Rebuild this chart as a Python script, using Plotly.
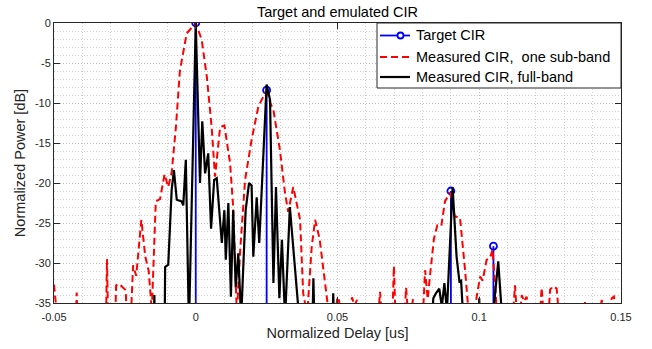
import plotly.graph_objects as go

# Target channel impulse response (discrete taps)
target_delay = [0.0, 0.025, 0.090, 0.105]
target_db = [0.0, -8.4, -21.0, -27.9]

# Measured CIR using a single sub-band
one_band_delay = [-0.0500, -0.0492, -0.0480, -0.0425, -0.0420, -0.0415, -0.0318, -0.0313, -0.0308,
                  -0.0286, -0.0281, -0.0271, -0.0257, -0.0247, -0.0240, -0.0228, -0.0221, -0.0210,
                  -0.0192, -0.0178, -0.0166, -0.0155, -0.0141, -0.0126, -0.0110, -0.0097, -0.0085,
                  -0.0070, -0.0056, -0.0032, 0.0000, 0.0021, 0.0039, 0.0056, 0.0068, 0.0086,
                  0.0101, 0.0121, 0.0132, 0.0141, 0.0145, 0.0156, 0.0174, 0.0197, 0.0221,
                  0.0247, 0.0274, 0.0297, 0.0315, 0.0326, 0.0344, 0.0368, 0.0379, 0.0393,
                  0.0409, 0.0421, 0.0437, 0.0444, 0.0462, 0.0470, 0.0494, 0.0499, 0.0504,
                  0.0510, 0.0546, 0.0551, 0.0560, 0.0569, 0.0576, 0.0645, 0.0650, 0.0655,
                  0.0694, 0.0699, 0.0704, 0.0737, 0.0742, 0.0748, 0.0762, 0.0766, 0.0770,
                  0.0802, 0.0809, 0.0818, 0.0828, 0.0840, 0.0852, 0.0866, 0.0879, 0.0891,
                  0.0897, 0.0914, 0.0932, 0.0950, 0.0962, 0.0985, 0.0991, 0.1003, 0.1012,
                  0.1026, 0.1038, 0.1047, 0.1055, 0.1062, 0.1120, 0.1126, 0.1132, 0.1145,
                  0.1150, 0.1158, 0.1167, 0.1175, 0.1215, 0.1220, 0.1226, 0.1245, 0.1250,
                  0.1262, 0.1273, 0.1280, 0.1368, 0.1373, 0.1378, 0.1426, 0.1432, 0.1438,
                  0.1460, 0.1467, 0.1475, 0.1482, 0.1500]
one_band_db = [-32.7, -35.5, -40, -40, -33.7, -40, -40, -29.5, -40,
               -40, -32.8, -32.6, -33.0, -33.4, -40, -36, -30.3, -31.6,
               -24.6, -29.2, -31.0, -36, -22.3, -22.0, -18.9, -20.5, -18.7,
               -13.0, -6.0, -1.3, 0.0, -2.1, -6.7, -13.0, -19.2, -13.0,
               -12.8, -17.5, -23.0, -33.8, -36.5, -28.8, -19.6, -14.6, -10.4,
               -8.6, -10.9, -15.9, -21.3, -23.6, -20.5, -24.6, -33.8, -36.5,
               -28.0, -24.6, -27.0, -29.0, -33.8, -36.5, -36, -34.5, -34.3,
               -36, -36, -34.3, -35.3, -34.6, -36, -36, -33.6, -36,
               -36, -30.4, -36, -36, -33.1, -36, -36, -34.5, -36,
               -36, -30.9, -34.5, -31.0, -27.0, -25.3, -25.4, -22.3, -21.5,
               -21.2, -24.2, -24.3, -30.9, -36, -36, -34.2, -31.7, -32.2,
               -29.6, -29.4, -28.3, -31.7, -36, -36, -32.8, -36, -36,
               -34.0, -34.8, -34.2, -36, -36, -33.1, -36, -36, -33.3,
               -32.9, -33.2, -36, -36, -34.9, -36, -36, -34.6, -36,
               -36, -34.4, -34.2, -36, -40]

# Measured CIR using the full band
full_band_delay = [-0.0500, -0.0149, -0.0146, -0.0143, -0.0110, -0.0108, -0.0097, -0.0085, -0.0077,
                   -0.0067, -0.0050, -0.0044, -0.0035, -0.0024, 0.0000, 0.0015, 0.0023, 0.0033,
                   0.0044, 0.0054, 0.0065, 0.0074, 0.0092, 0.0101, 0.0106, 0.0115, 0.0124,
                   0.0132, 0.0141, 0.0150, 0.0160, 0.0176, 0.0188, 0.0197, 0.0203, 0.0215,
                   0.0224, 0.0250, 0.0262, 0.0274, 0.0283, 0.0295, 0.0304, 0.0315, 0.0332,
                   0.0365, 0.0410, 0.0415, 0.0420, 0.0481, 0.0485, 0.0489, 0.0829, 0.0838,
                   0.0847, 0.0859, 0.0868, 0.0877, 0.0886, 0.0906, 0.0920, 0.0930, 0.0936,
                   0.0942, 0.0997, 0.1000, 0.1003, 0.1050, 0.1067, 0.1079, 0.1500]
full_band_db = [-40, -40, -34.0, -40, -40, -30.5, -30.2, -20.9, -18.4,
                -22.1, -22.3, -22.8, -17.1, -38, 0.0, -20.0, -12.3, -18.8,
                -16.3, -25.7, -19.6, -19.4, -27.5, -23.4, -29.6, -22.5, -34.2,
                -23.4, -33.0, -28.8, -37, -23.4, -20.0, -20.3, -29.2, -21.8,
                -27.5, -7.7, -9.6, -32.5, -20.5, -34.4, -27.1, -37, -23.0,
                -37, -40, -31.9, -40, -40, -33.8, -40, -40, -34.4,
                -33.8, -33.2, -35.5, -32.5, -36, -20.5, -29.2, -32.3, -32.2,
                -36, -40, -34.4, -40, -36, -29.8, -36, -40]

assert len(one_band_delay) == len(one_band_db)
assert len(full_band_delay) == len(full_band_db)

x_tick_vals = [-0.05, 0, 0.05, 0.1, 0.15]
x_tick_text = ["-0.05", "0", "0.05", "0.1", "0.15"]
y_tick_vals = [-35, -30, -25, -20, -15, -10, -5, 0]
y_tick_text = ["-35", "-30", "-25", "-20", "-15", "-10", "-5", "0"]

legend_labels = ["Target CIR", "Measured CIR,  one sub-band", "Measured CIR, full-band"]

y_floor = -35
FONT = "Liberation Sans, Arial, Helvetica, sans-serif"
AXIS_COLOR = "#262626"
BLUE, RED, BLACK = "#0000ff", "#ff0000", "#000000"
RED_DASH = "7px,4px"

W, H = 652, 349
M_L, M_R, M_T, M_B = 54, 31, 23, 46
PW, PH = W - M_L - M_R, H - M_T - M_B


def px_x(p):
    """pixel column -> paper x"""
    return (p - M_L) / PW


def px_y(p):
    """pixel row -> paper y"""
    return (H - M_B - p) / PH


# stems from the axis floor up to each tap
stem_x, stem_y = [], []
for d, v in zip(target_delay, target_db):
    stem_x += [d, d, None]
    stem_y += [y_floor, v, None]

fig = go.Figure()

fig.add_trace(go.Scatter(x=stem_x, y=stem_y, mode="lines",
                         line=dict(color=BLUE, width=1.8), hoverinfo="skip"))
fig.add_trace(go.Scatter(x=target_delay, y=target_db, mode="markers",
                         marker=dict(symbol="circle-open", size=7, color=BLUE,
                                     line=dict(width=1.8, color=BLUE)),
                         name=legend_labels[0]))
fig.add_trace(go.Scatter(x=one_band_delay, y=one_band_db, mode="lines",
                         line=dict(color=RED, width=2, dash=RED_DASH),
                         name=legend_labels[1]))
fig.add_trace(go.Scatter(x=full_band_delay, y=full_band_db, mode="lines",
                         line=dict(color=BLACK, width=2.2),
                         name=legend_labels[2]))

axis_common = dict(
    showline=True, linecolor=AXIS_COLOR, linewidth=1, mirror="ticks",
    ticks="inside", ticklen=6, tickcolor=AXIS_COLOR, tickwidth=1,
    showgrid=True, gridcolor="#bdbdbd", griddash="1px,2px", gridwidth=1,
    zeroline=False, automargin=False,
    tickfont=dict(family=FONT, size=11, color=AXIS_COLOR),
)

fig.update_xaxes(
    range=[-0.05, 0.15], tickvals=x_tick_vals, ticktext=x_tick_text,
    ticklabelstandoff=4,
    minor=dict(dtick=0.01, showgrid=True, gridcolor="#cfcfcf", griddash="1px,2px", ticks=""),
    title=dict(text="Normalized Delay [us]", font=dict(family=FONT, size=14.5, color=AXIS_COLOR),
               standoff=5),
    **axis_common,
)
fig.update_yaxes(
    range=[-35, 0], tickvals=y_tick_vals, ticktext=y_tick_text,
    minor=dict(dtick=1, showgrid=True, gridcolor="#cfcfcf", griddash="1px,2px", ticks=""),
    title=dict(text="Normalized Power [dB]", font=dict(family=FONT, size=14.5, color=AXIS_COLOR),
               standoff=5),
    **axis_common,
)

# legend box drawn in the upper-right corner of the axes
shapes = [dict(type="rect", xref="paper", yref="paper",
               x0=px_x(377), x1=1, y0=px_y(88), y1=1,
               fillcolor="white", line=dict(color=AXIS_COLOR, width=1), layer="above")]
annotations = []
rows = [35.5, 57, 77]
styles = [dict(color=BLUE, width=1.8), dict(color=RED, width=2, dash=RED_DASH),
          dict(color=BLACK, width=2.2)]
for row, style, label in zip(rows, styles, legend_labels):
    shapes.append(dict(type="line", xref="paper", yref="paper",
                       x0=px_x(380), x1=px_x(410), y0=px_y(row), y1=px_y(row),
                       line=style, layer="above"))
    annotations.append(dict(text=label, xref="paper", yref="paper",
                            x=px_x(414), y=px_y(row), xanchor="left", yanchor="middle",
                            showarrow=False, font=dict(family=FONT, size=14.5, color=BLACK)))
# open circle on the target sample line
shapes.append(dict(type="circle", xref="paper", yref="paper",
                   x0=px_x(397.5), x1=px_x(403.5), y0=px_y(rows[0] + 3), y1=px_y(rows[0] - 3),
                   fillcolor="white", line=dict(color=BLUE, width=1.8), layer="above"))

fig.update_layout(
    width=W, height=H, autosize=False,
    margin=dict(l=M_L, r=M_R, t=M_T, b=M_B, pad=0),
    paper_bgcolor="white", plot_bgcolor="white",
    title=dict(text="Target and emulated CIR", x=0.5, xref="paper", xanchor="center",
               y=1 - 12 / H, yanchor="middle",
               font=dict(family=FONT, size=14.5, color="#000000")),
    showlegend=False,
    shapes=shapes,
    annotations=annotations,
)

fig.write_html("out.html")
